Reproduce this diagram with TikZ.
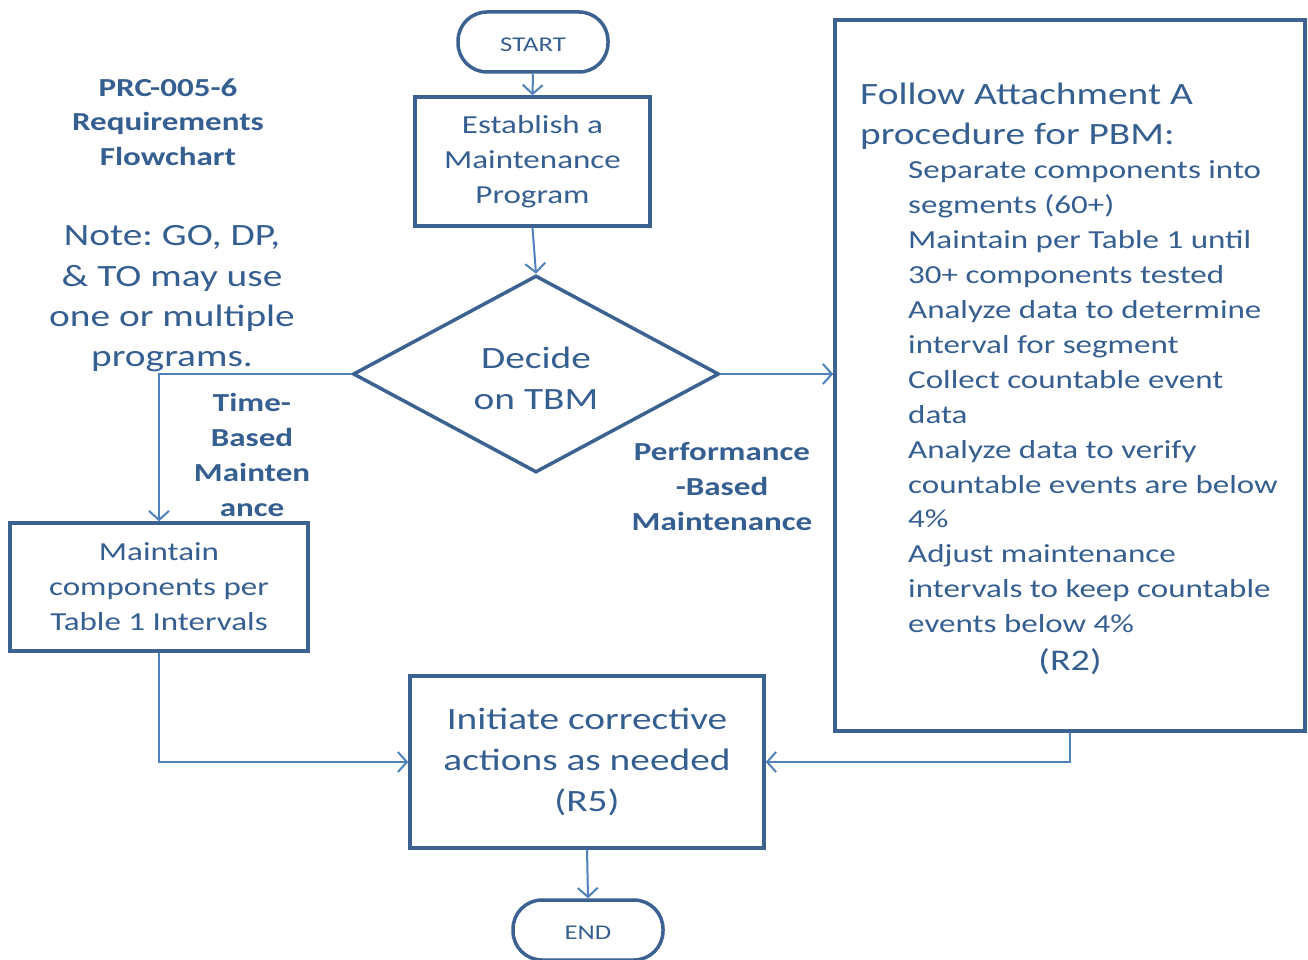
\documentclass[tikz,border=0pt]{standalone}
\usepackage{fontspec}
\setmainfont{Carlito}[FakeStretch=1.27]
\usetikzlibrary{arrows.meta,shapes.geometric}
\definecolor{inkblue}{RGB}{54,95,145}
\definecolor{framecol}{RGB}{60,98,145}
\definecolor{linkcol}{RGB}{79,129,189}
\newcommand\fsz[2]{\fontsize{#1}{#2}\selectfont}
\frenchspacing
\begin{document}
\begin{tikzpicture}[x=1pt,y=-1pt,
  every node/.style={text=inkblue, inner sep=0pt},
  boxed/.style={draw=framecol, line width=3.5pt, rectangle, align=center},
  terminal/.style={draw=framecol, line width=3.5pt, rectangle, rounded corners=29pt,
    minimum width=150pt, minimum height=60pt, text height=19pt, text depth=0pt,
    font=\fsz{21}{25}},
  flow/.style={draw=linkcol, line width=2pt,
    -{Straight Barb[length=9pt,width=20pt,line width=2pt]}}]
\useasboundingbox (0,0) rectangle (1308,960);
\fill[white] (0,0) rectangle (1308,960);

% terminals and process boxes
\node[terminal] (start) at (533,42) {START};
\node[boxed, minimum width=235pt, minimum height=129pt, font=\fsz{26}{35}] (est) at (532.5,161.5)
  {Establish a\\Maintenance\\Program};
\node[draw=framecol, line width=3.5pt, diamond, aspect=1.9, minimum width=366pt,
  minimum height=197pt] (dec) at (536,374) {};
\node[align=center, font=\fsz{31}{41}] (dectext) at (536,378) {Decide\\on TBM};
\node[boxed, minimum width=298pt, minimum height=128pt, font=\fsz{26}{35}] (maint) at (159,587)
  {Maintain\\components per\\Table 1 Intervals};
\node[boxed, minimum width=470pt, minimum height=711pt] (pbm) at (1070,375.5) {};
\node[boxed, minimum width=354pt, minimum height=172pt, font=\fsz{31}{41}] (init) at (587,762)
  {Initiate corrective\\actions as needed\\(R5)};
\node[terminal] (end) at (588,930) {END};

% procedure text inside the PBM box
\node[anchor=west, align=left, font=\fsz{31}{40}] (pbmhead) at (860,116)
  {Follow Attachment A\\procedure for PBM:};
\node[anchor=west, align=left, font=\fsz{26}{34.9}] (pbmsteps) at (908,397)
  {Separate components into\\segments (60+)\\Maintain per Table 1 until\\30+ components tested\\
   Analyze data to determine\\interval for segment\\Collect countable event\\data\\
   Analyze data to verify\\countable events are below\\4\%\\Adjust maintenance\\
   intervals to keep countable\\events below 4\%};
\node[font=\fsz{30}{36}] (pbmreq) at (1070,662) {(R2)};

% free-standing labels
\node[align=center, font=\bfseries\fsz{26}{34.5}] (title) at (168,122)
  {PRC-005-6\\Requirements\\Flowchart};
\node[align=center, font=\fsz{31}{40.3}] (note) at (172,299)
  {Note: GO, DP,\\\& TO may use\\one or multiple\\programs.};
\node[align=center, font=\bfseries\fsz{26}{34.7}] (tbmlab) at (252,455)
  {Time-\\Based\\Mainten\\ance};
\node[align=center, font=\bfseries\fsz{26}{35}] (pbmlab) at (722,487)
  {Performance\\-Based\\Maintenance};

% connectors
\draw[flow] (start.south) -- (est.north);
\draw[flow] (est.south) -- (dec.north);
\draw[flow] (dec.west) -| (maint.north);
\draw[flow] (dec.east) -- (pbm.west |- dec.east);
\draw[flow] (maint.south) |- (init.west);
\draw[flow] (pbm.south) |- (init.east);
\draw[flow] (init.south) -- (end.north);
\end{tikzpicture}
\end{document}
